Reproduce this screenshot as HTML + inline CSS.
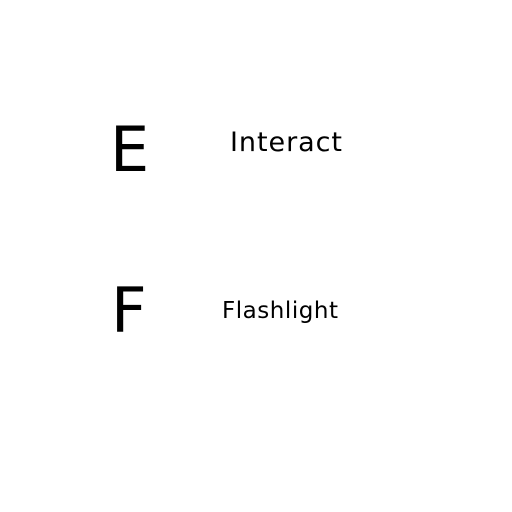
<!DOCTYPE html>
<html><head><meta charset="utf-8"><style>
html,body{margin:0;padding:0;background:#fff;width:512px;height:512px;overflow:hidden}
text{font-family:"DejaVu Sans","Liberation Sans",sans-serif;fill:#000}
</style></head><body>
<svg width="512" height="512">
<text x="110" y="171" font-size="62">E</text>
<text x="230" y="151" font-size="27" textLength="112">Interact</text>
<text x="111" y="332" font-size="62" textLength="35">F</text>
<text x="222" y="318" font-size="23" textLength="116">Flashlight</text>
</svg>
</body></html>
